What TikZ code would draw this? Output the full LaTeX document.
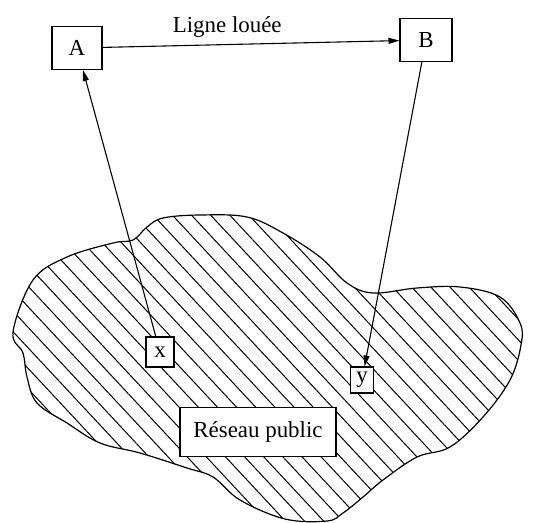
\documentclass[tikz,border=0pt]{standalone}
\usepackage{fontspec}
\setmainfont{Liberation Serif}
\usetikzlibrary{arrows.meta,patterns.meta}

\begin{document}
\begin{tikzpicture}[x=1bp, y=-1bp, font=\fontsize{23}{27}\selectfont,
  box/.style={draw, fill=white, line width=1.1pt, inner sep=0pt},
  link/.style={line width=1.1pt, -{Triangle[length=11pt,width=6pt]}}]
\useasboundingbox (0,0) rectangle (540,523);

% reseau public
\draw[line width=1.2pt, pattern={Lines[angle=-47,distance=14bp,line width=1pt]}]
  plot[smooth cycle, tension=0.6] coordinates {
  (13,332) (33,280) (67,257) (113,243) (133,240) (147,227) (163,218)
  (200,215) (247,217) (283,233) (320,257) (347,283) (373,293) (417,288)
  (460,287) (500,297) (520,323) (521,345) (510,380) (483,417) (450,447)
  (417,457) (383,480) (363,497) (343,513) (327,521) (285,519) (240,500)
  (213,477) (187,468) (140,453) (100,443) (67,423) (37,403) (27,377) (23,353)};

\node[box, minimum width=50bp, minimum height=43bp] (A) at (77,48) {A};
\node[box, minimum width=52bp, minimum height=43bp] (B) at (426,40) {B};
\node[box, minimum width=28bp, minimum height=30bp] (x) at (160,352) {x};
\node[box, minimum width=23bp, minimum height=26bp] (y) at (362,380) {y};
\node[box, minimum width=156bp, minimum height=49bp] (R) at (258,432) {Réseau public};

\draw[link] (A) -- node[pos=0.42, above=3bp] {Ligne louée} (B);
\draw[link] (x) -- (A);
\draw[link] (B) -- (y);
\end{tikzpicture}
\end{document}
